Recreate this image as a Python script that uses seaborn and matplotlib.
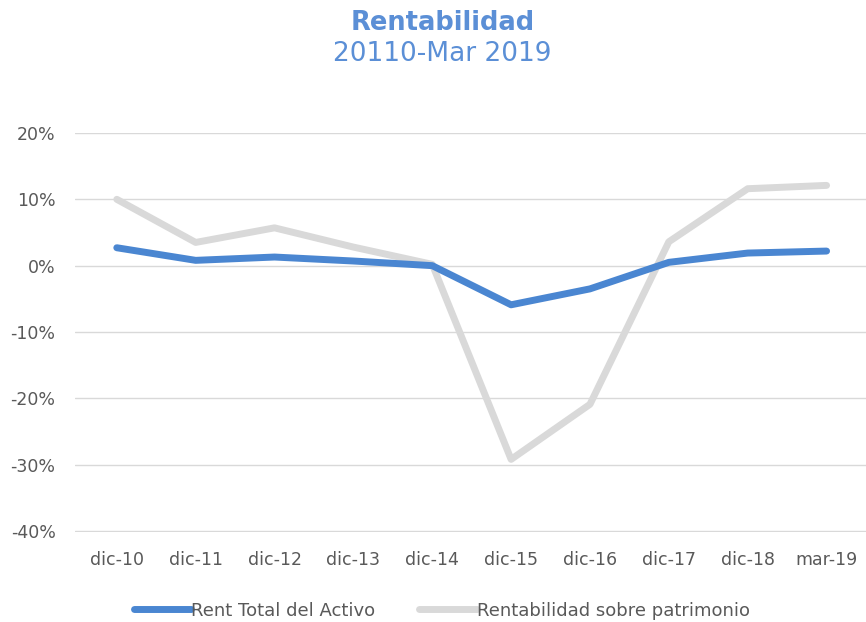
import matplotlib
matplotlib.use("Agg")
import matplotlib.pyplot as plt
import seaborn as sns
import pandas as pd
from matplotlib.ticker import FuncFormatter

categories = ["dic-10", "dic-11", "dic-12", "dic-13", "dic-14", "dic-15", "dic-16", "dic-17", "dic-18", "mar-19"]
rent_activo = [2.7, 0.8, 1.3, 0.7, 0.0, -5.9, -3.5, 0.5, 1.9, 2.2]
rent_patrimonio = [10.0, 3.5, 5.7, 2.8, 0.2, -29.2, -20.9, 3.6, 11.6, 12.1]
series_names = ["Rent Total del Activo", "Rentabilidad sobre patrimonio"]
yticks = [-40, -30, -20, -10, 0, 10, 20]

df = pd.concat([
    pd.DataFrame({"cat": categories, "val": rent_activo, "serie": series_names[0]}),
    pd.DataFrame({"cat": categories, "val": rent_patrimonio, "serie": series_names[1]}),
])

sns.set_theme(style="white")
plt.rcParams["font.family"] = ["DejaVu Sans"]

fig = plt.figure(figsize=(8.66, 6.22), dpi=100)
ax = fig.add_axes([0.0866, 0.1447, 0.9134, 0.6415])

palette = {series_names[0]: "#4A86D1", series_names[1]: "#D9D9D9"}
sns.lineplot(data=df, x="cat", y="val", hue="serie", palette=palette, sort=False,
             linewidth=5, ax=ax, legend=True, hue_order=series_names[::-1])
for line in ax.get_lines():
    if line.get_label() == series_names[0]:
        line.set_zorder(4)

ax.set_ylim(-40.15, 20)
ax.set_xlim(-0.53, 9.5)
ax.set_yticks(yticks)
ax.yaxis.set_major_formatter(FuncFormatter(lambda v, p: f"{int(v)}%"))
ax.grid(axis="y", color="#D9D9D9", linewidth=1)
ax.grid(axis="x", visible=False)
for s in ax.spines.values():
    s.set_visible(False)
ax.tick_params(axis="both", length=0, labelsize=12.5, labelcolor="#595959")
ax.tick_params(axis="x", pad=14)
ax.tick_params(axis="y", pad=14)
ax.set_xlabel("")
ax.set_ylabel("")

handles, labels = ax.get_legend_handles_labels()
order = [labels.index(n) for n in series_names]
ax.legend([handles[i] for i in order], [labels[i] for i in order],
          loc="center", bbox_to_anchor=(0.51, 0.018), bbox_transform=fig.transFigure,
          ncol=2, frameon=False, prop={"size": 13},
          labelcolor="#595959",
          handlelength=3.2, handletextpad=0.0, columnspacing=2.4)

fig.text(0.511, 0.963, "Rentabilidad", ha="center", va="center", fontsize=18.5,
         fontweight="bold", color="#5B8FD6")
fig.text(0.511, 0.913, "20110-Mar 2019", ha="center", va="center", fontsize=19,
         color="#5B8FD6")

fig.savefig("out.png", dpi=100)
